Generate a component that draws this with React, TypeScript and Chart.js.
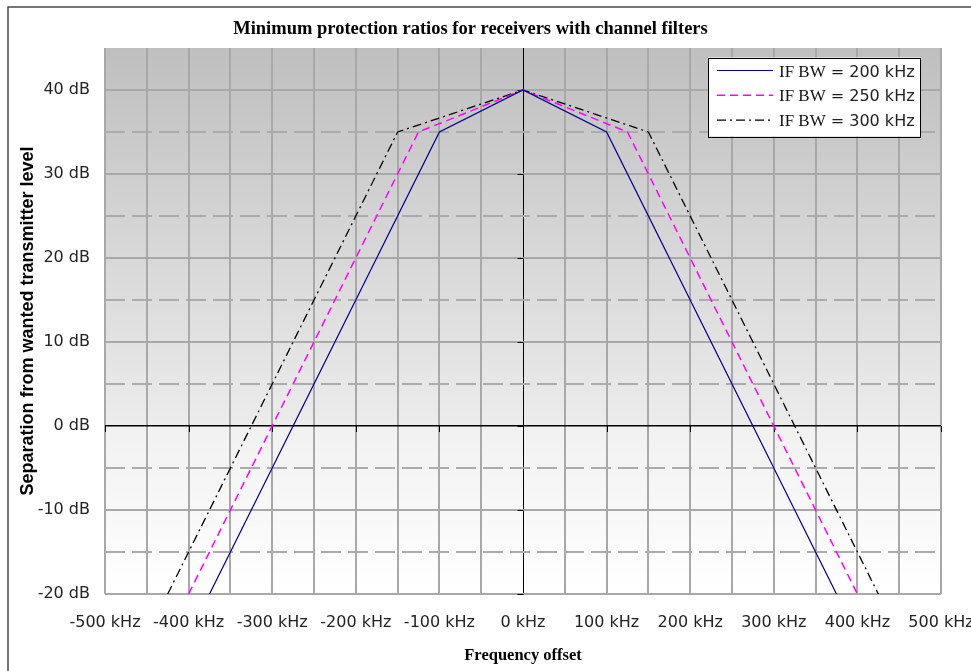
import React, { useEffect, useRef } from 'react';
import { Chart, registerables } from 'chart.js';

Chart.register(...registerables);

const chartTitle = 'Minimum protection ratios for receivers with channel filters';
const xAxisTitle = 'Frequency offset';
const yAxisTitle = 'Separation from wanted transmitter level';
const seriesLabels = ['IF BW = 200 kHz', 'IF BW = 250 kHz', 'IF BW = 300 kHz'];

const offsets200 = [-375, -100, 0, 100, 375];
const ratios200 = [-20, 35, 40, 35, -20];
const offsets250 = [-400, -125, 0, 125, 400];
const ratios250 = [-20, 35, 40, 35, -20];
const offsets300 = [-425, -150, 0, 150, 425];
const ratios300 = [-20, 35, 40, 35, -20];

const xMin = -500;
const xMax = 500;
const xStep = 50;
const xLabelStep = 100;
const yMin = -20;
const yMax = 45;
const yStep = 5;
const yLabelStep = 10;

const SANS = '"DejaVu Sans", sans-serif';
const SERIF = '"Liberation Serif", "Times New Roman", serif';
const BOLD_SANS = '"Liberation Sans", Arial, sans-serif';

const pts = (xs: number[], ys: number[]) => xs.map((x, i) => ({ x, y: ys[i] }));

const backgroundPlugin = {
  id: 'bgFrame',
  beforeDraw(chart: any) {
    const { ctx, chartArea } = chart;
    const ys = chart.scales.y;
    const zero = ys.getPixelForValue(0);
    ctx.save();
    ctx.strokeStyle = '#4a4a4a';
    ctx.lineWidth = 1.5;
    ctx.strokeRect(8, 7, 3000, 3000);
    const g1 = ctx.createLinearGradient(0, chartArea.top, 0, zero);
    g1.addColorStop(0, '#bfbfbf');
    g1.addColorStop(1, '#ececec');
    ctx.fillStyle = g1;
    ctx.fillRect(chartArea.left, chartArea.top, chartArea.right - chartArea.left, zero - chartArea.top);
    const g2 = ctx.createLinearGradient(0, zero, 0, chartArea.bottom);
    g2.addColorStop(0, '#f1f1f1');
    g2.addColorStop(1, '#ffffff');
    ctx.fillStyle = g2;
    ctx.fillRect(chartArea.left, zero, chartArea.right - chartArea.left, chartArea.bottom - zero);
    ctx.restore();
  },
};

const dashedGridPlugin = {
  id: 'dashedGrid',
  beforeDatasetsDraw(chart: any) {
    const { ctx, chartArea } = chart;
    const ys = chart.scales.y;
    const xs = chart.scales.x;
    ctx.save();
    ctx.strokeStyle = '#ababab';
    ctx.lineWidth = 2;
    ctx.setLineDash([20, 7]);
    ys.ticks.forEach((t: any) => {
      const v = t.value;
      if (v % yLabelStep !== 0 && v < yMax) {
        const py = Math.round(ys.getPixelForValue(v));
        ctx.beginPath();
        ctx.moveTo(chartArea.left, py);
        ctx.lineTo(chartArea.right, py);
        ctx.stroke();
      }
    });
    ctx.setLineDash([]);
    ctx.strokeStyle = '#000';
    ctx.lineWidth = 1;
    const y0 = Math.round(ys.getPixelForValue(0));
    const x0 = Math.round(xs.getPixelForValue(0)) + 0.5;
    xs.ticks.forEach((t: any) => {
      if (t.value % xLabelStep === 0) {
        const px = Math.round(xs.getPixelForValue(t.value)) + 0.5;
        ctx.beginPath();
        ctx.moveTo(px, y0);
        ctx.lineTo(px, y0 + 6);
        ctx.stroke();
      }
    });
    ys.ticks.forEach((t: any) => {
      if (t.value % yLabelStep === 0) {
        const py = Math.round(ys.getPixelForValue(t.value)) + 0.5;
        ctx.beginPath();
        ctx.moveTo(x0 - 6, py);
        ctx.lineTo(x0, py);
        ctx.stroke();
      }
    });
    ctx.restore();
  },
};

const customLegendPlugin = {
  id: 'customLegend',
  afterDraw(chart: any) {
    const { ctx, chartArea } = chart;
    const right = chartArea.right - 21;
    const width = 212;
    const left = right - width;
    const top = chartArea.top + 9.5;
    const height = 79;
    ctx.save();
    ctx.fillStyle = '#ffffff';
    ctx.fillRect(left, top, width, height);
    ctx.strokeStyle = '#000';
    ctx.lineWidth = 1;
    ctx.strokeRect(Math.round(left) + 0.5, Math.round(top) + 0.5, width, height);
    chart.data.datasets.forEach((ds: any, i: number) => {
      const rowY = top + 13 + i * 24.8;
      ctx.strokeStyle = ds.borderColor;
      ctx.lineWidth = ds.borderWidth;
      ctx.setLineDash(ds.borderDash || []);
      ctx.beginPath();
      ctx.moveTo(left + 9, rowY);
      ctx.lineTo(left + 65, rowY);
      ctx.stroke();
      ctx.setLineDash([]);
      const label: string = ds.label;
      const idx = label.indexOf('=');
      const p1 = label.slice(0, idx).trim();
      const p2 = label.slice(idx);
      ctx.textBaseline = 'alphabetic';
      ctx.textAlign = 'left';
      ctx.fillStyle = '#111';
      ctx.font = `17px ${SERIF}`;
      let tx = left + 71;
      const base = rowY + 6;
      ctx.fillText(p1, tx, base);
      tx += ctx.measureText(p1).width + 5;
      ctx.font = `16px ${SANS}`;
      ctx.fillStyle = '#222';
      ctx.fillText(p2, tx, base);
    });
    ctx.restore();
  },
};

export default function App() {
  const ref = useRef<HTMLCanvasElement>(null);
  useEffect(() => {
    const canvas = ref.current!;
    const chart = new Chart(canvas, {
      type: 'line',
      data: {
        datasets: [
          {
            label: seriesLabels[0],
            data: pts(offsets200, ratios200),
            borderColor: '#000090',
            borderWidth: 1.2,
            borderDash: [],
            pointRadius: 0,
            fill: false,
            tension: 0,
          },
          {
            label: seriesLabels[1],
            data: pts(offsets250, ratios250),
            borderColor: '#ff00ff',
            borderWidth: 1.5,
            borderDash: [8, 5],
            pointRadius: 0,
            fill: false,
            tension: 0,
          },
          {
            label: seriesLabels[2],
            data: pts(offsets300, ratios300),
            borderColor: '#000000',
            borderWidth: 1.3,
            borderDash: [9, 4, 2, 4],
            pointRadius: 0,
            fill: false,
            tension: 0,
          },
        ],
      },
      options: {
        responsive: false,
        animation: false,
        devicePixelRatio: 1,
        layout: { padding: { left: 0, right: 30, top: 0, bottom: 0 } },
        plugins: {
          legend: { display: false },
          tooltip: { enabled: false },
          title: {
            display: true,
            text: chartTitle,
            color: '#000',
            font: { family: SERIF, size: 18.5, weight: 'bold' },
            padding: { top: 18.5, bottom: 7.3 },
          },
        },
        scales: {
          x: {
            type: 'linear',
            min: xMin,
            max: xMax,
            border: { display: false },
            grid: {
              drawTicks: false,
              color: (c: any) => (c.tick && c.tick.value === 0 ? '#000' : '#a8a8a8'),
              lineWidth: (c: any) => (c.tick && c.tick.value === 0 ? 1 : 2),
            },
            ticks: {
              stepSize: xStep,
              autoSkip: false,
              maxRotation: 0,
              padding: 19,
              color: '#222',
              font: { family: SANS, size: 16 },
              callback: (v: any) => (Number(v) % xLabelStep === 0 ? `${v} kHz` : ''),
            },
            title: {
              display: true,
              text: xAxisTitle,
              color: '#000',
              font: { family: SERIF, size: 16.5, weight: 'bold' },
              padding: { top: 0, bottom: 5 },
            },
            afterFit: (s: any) => {
              s.height = 77;
              s.paddingLeft = 0;
              s.paddingRight = 0;
            },
          },
          y: {
            type: 'linear',
            min: yMin,
            max: yMax,
            border: { display: false },
            grid: {
              drawTicks: false,
              color: (c: any) => {
                const v = c.tick ? c.tick.value : NaN;
                if (v === 0) return '#000';
                return v % yLabelStep === 0 ? '#a8a8a8' : 'rgba(0,0,0,0)';
              },
              lineWidth: (c: any) => (c.tick && c.tick.value === 0 ? 1.5 : 2),
            },
            ticks: {
              stepSize: yStep,
              autoSkip: false,
              padding: 15,
              color: '#222',
              font: { family: SANS, size: 16 },
              callback: (v: any) => (Number(v) % yLabelStep === 0 ? `${v} dB` : ''),
            },
            title: {
              display: true,
              text: yAxisTitle,
              color: '#000',
              font: { family: BOLD_SANS, size: 18, weight: 'bold' },
              padding: { top: 17, bottom: 0 },
            },
            afterFit: (s: any) => {
              s.width = 105;
              s.paddingTop = 0;
              s.paddingBottom = 0;
            },
          },
        },
      },
      plugins: [backgroundPlugin, dashedGridPlugin, customLegendPlugin],
    } as any);
    return () => chart.destroy();
  }, []);
  return (
    <div style={{ position: 'fixed', left: 0, top: 0, width: 971, height: 671, background: '#fff' }}>
      <canvas ref={ref} width={971} height={671} style={{ display: 'block', width: 971, height: 671 }} />
    </div>
  );
}
